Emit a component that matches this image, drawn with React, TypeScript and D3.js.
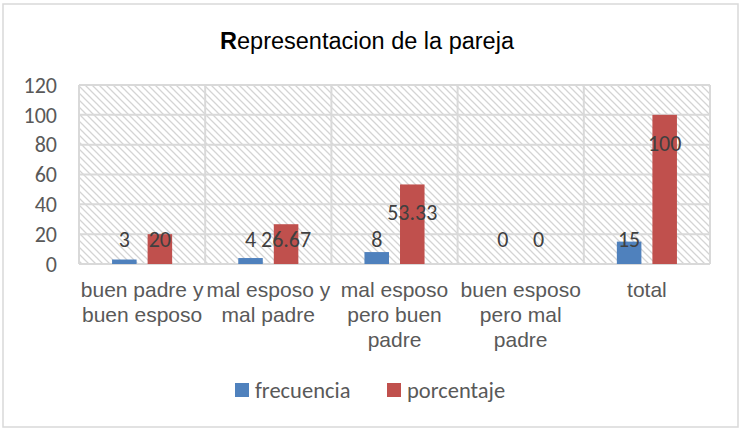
import React from 'react';
import { scaleBand, scaleLinear } from 'd3';

const categories = [
  ['buen padre y', 'buen esposo'],
  ['mal esposo y', 'mal padre'],
  ['mal esposo', 'pero buen', 'padre'],
  ['buen esposo', 'pero mal', 'padre'],
  ['total'],
];
const series = ['frecuencia', 'porcentaje'];
const frecuencia = [3, 4, 8, 0, 15];
const porcentaje = [20, 26.67, 53.33, 0, 100];
const yTicks = [0, 20, 40, 60, 80, 100, 120];

const colors = ['#4f81bd', '#c0504d'];
// where each data label was dragged to, in value units (frecuencia, porcentaje)
const labelLevel = [
  [16.8, 16.8],
  [16.8, 16.8],
  [16.8, 34.9],
  [16.8, 16.8],
  [16.8, 81],
];

const W = 739;
const H = 429;
const left = 79;
const right = 710;
const top = 85;
const bottom = 264;

const calibri = 'Carlito, Calibri, Lato, sans-serif';
const arial = '"Liberation Sans", Arial, sans-serif';

export default function App() {
  const x0 = scaleBand<number>()
    .domain(categories.map((d, i) => i))
    .range([left, right])
    .padding(0);

  const x1 = scaleBand<string>()
    .domain(series)
    .range([0, x0.bandwidth()])
    .paddingInner(0.31)
    .paddingOuter(0.93);

  const y = scaleLinear().domain([0, 120]).range([bottom, top]);

  const values = [frecuencia, porcentaje];

  return (
    <svg
      width={W}
      height={H}
      style={{ position: 'absolute', left: 0, top: 0, background: '#fff' }}
    >
      <defs>
        <pattern id="hatch" width="7" height="7" patternUnits="userSpaceOnUse">
          <path d="M-1,-1 L8,8 M-1,6 L1,8 M6,-1 L8,1" stroke="#d4d4d4" strokeWidth="1.3" />
        </pattern>
      </defs>
      <rect x={3} y={4} width={735} height={423} fill="#fff" stroke="#d9d9d9" strokeWidth={1.5} />

      <text x={367} y={49} textAnchor="middle" fontFamily={arial} fontSize={23.5} fill="#000">
        <tspan fontWeight="bold">R</tspan>epresentacion de la pareja
      </text>

      <rect x={left} y={top} width={right - left} height={bottom - top} fill="url(#hatch)" />

      {yTicks.map(t => (
        <g key={t}>
          <line x1={left} x2={right} y1={y(t)} y2={y(t)} stroke="#d9d9d9" strokeWidth={2} />
          <text
            x={57}
            y={y(t)}
            dy="0.35em"
            textAnchor="end"
            fontFamily={calibri}
            fontSize={22}
            fill="#595959"
          >
            {t}
          </text>
        </g>
      ))}
      {categories.map((c, i) => (
        <line
          key={'v' + i}
          x1={x0(i)}
          x2={x0(i)}
          y1={top}
          y2={bottom}
          stroke="#d9d9d9"
          strokeWidth={2}
        />
      ))}
      <line x1={right} x2={right} y1={top} y2={bottom} stroke="#d9d9d9" strokeWidth={2} />

      {categories.map((c, i) =>
        series.map((s, k) => {
          const v = values[k][i];
          return (
            <rect
              key={s + i}
              x={(x0(i) as number) + (x1(s) as number)}
              y={y(v)}
              width={x1.bandwidth()}
              height={bottom - y(v)}
              fill={colors[k]}
            />
          );
        })
      )}

      {categories.map((c, i) =>
        series.map((s, k) => (
          <text
            key={'l' + s + i}
            x={(x0(i) as number) + (x1(s) as number) + x1.bandwidth() / 2}
            y={y(labelLevel[i][k])}
            dy="0.35em"
            textAnchor="middle"
            fontFamily={calibri}
            fontSize={22}
            fill="#404040"
          >
            {values[k][i]}
          </text>
        ))
      )}

      {categories.map((lines, i) => (
        <text
          key={'c' + i}
          x={(x0(i) as number) + x0.bandwidth() / 2}
          y={290}
          textAnchor="middle"
          fontFamily={arial}
          fontSize={21}
          fill="#595959"
        >
          {lines.map((l, j) => (
            <tspan key={j} x={(x0(i) as number) + x0.bandwidth() / 2} dy={j === 0 ? '0.35em' : 25}>
              {l}
            </tspan>
          ))}
        </text>
      ))}

      {series.map((s, k) => {
        const lx = k === 0 ? 235 : 387;
        return (
          <g key={'lg' + s}>
            <rect x={lx} y={383} width={14} height={14} fill={colors[k]} />
            <text
              x={lx + 20}
              y={390}
              dy="0.35em"
              fontFamily={calibri}
              fontSize={22.5}
              fill="#595959"
            >
              {s}
            </text>
          </g>
        );
      })}
    </svg>
  );
}
